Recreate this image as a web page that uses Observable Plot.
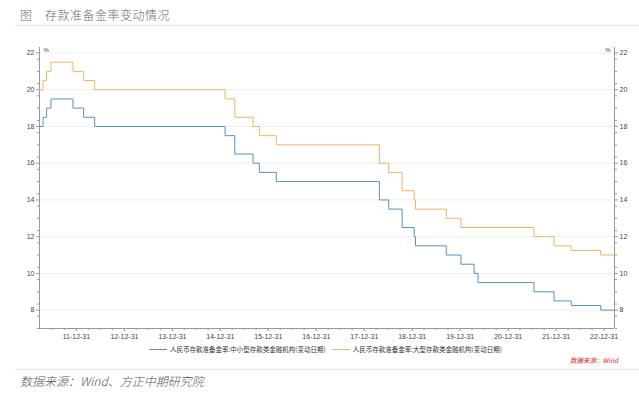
<!DOCTYPE html>
<html>
<head>
<meta charset="utf-8">
<script src="https://cdn.jsdelivr.net/npm/d3@7"></script>
<script src="https://cdn.jsdelivr.net/npm/@observablehq/plot@0.6"></script>
<style>
  html, body { margin: 0; padding: 0; background: #fff; }
  body { width: 639px; height: 401px; position: relative; overflow: hidden; font-family: "Noto Sans CJK SC", "Noto Sans", sans-serif; }
  #title { position: absolute; left: 20px; top: 6px; font-size: 12px; color: #6a6a6a; font-weight: 300; letter-spacing: 0.5px; }
  #rule1 { position: absolute; left: 15px; right: 0; top: 25px; border-top: 1px solid #e6e6e6; }
  #chart { position: absolute; left: 0; top: 30px; }
  #legend { position: absolute; left: 0; width: 639px; top: 344px; display: flex; justify-content: center; gap: 6px; font-size: 6.5px; color: #333; padding-left: 12px; box-sizing: border-box; }
  #legend .item { display: flex; align-items: center; }
  #legend .sw { display: inline-block; width: 18px; height: 0; border-top: 1px solid; margin-right: 3px; }
  #src { position: absolute; left: 570px; top: 355px; font-size: 6.5px; color: #e0201a; font-style: italic; }
  #rule2 { position: absolute; left: 15px; right: 0; top: 369px; border-top: 1px solid #e6e6e6; }
  #caption { position: absolute; left: 20px; top: 372px; font-size: 12px; color: #555; font-weight: 300; font-style: italic; }
</style>
</head>
<body>
<div id="title">图　存款准备金率变动情况</div>
<div id="rule1"></div>
<div id="chart"></div>
<div id="legend"></div>
<div id="src">数据来源：Wind</div>
<div id="rule2"></div>
<div id="caption">数据来源：Wind、方正中期研究院</div>
<script>
// ---- data ----
const seriesNames = [
  "人民币存款准备金率:中小型存款类金融机构(变动日期)",
  "人民币存款准备金率:大型存款类金融机构(变动日期)"
];
const seriesColors = ["#5592c2", "#f2b460"];

const smallDates = ["2011-03-25","2011-04-21","2011-05-18","2011-06-20","2011-12-05","2012-02-24","2012-05-18",
  "2015-02-05","2015-04-20","2015-09-06","2015-10-24","2016-03-01","2018-04-25","2018-07-05","2018-10-15",
  "2019-01-15","2019-01-25","2019-09-16","2020-01-06","2020-04-15","2020-05-15","2021-07-15","2021-12-15",
  "2022-04-25","2022-12-05","2023-03-20"];
const smallRates = [18.0,18.5,19.0,19.5,19.0,18.5,18.0,
  17.5,16.5,16.0,15.5,15.0,14.0,13.5,12.5,
  12.0,11.5,11.0,10.5,10.0,9.5,9.0,8.5,
  8.25,8.0,8.0];

const largeDates = ["2011-03-25","2011-04-21","2011-05-18","2011-06-20","2011-12-05","2012-02-24","2012-05-18",
  "2015-02-05","2015-04-20","2015-09-06","2015-10-24","2016-03-01","2018-04-25","2018-07-05","2018-10-15",
  "2019-01-15","2019-01-25","2019-09-16","2020-01-06","2021-07-15","2021-12-15",
  "2022-04-25","2022-12-05","2023-03-20"];
const largeRates = [20.0,20.5,21.0,21.5,21.0,20.5,20.0,
  19.5,18.5,18.0,17.5,17.0,16.0,15.5,14.5,
  14.0,13.5,13.0,12.5,12.0,11.5,
  11.25,11.0,11.0];

const xTickDates = ["2011-12-31","2012-12-31","2013-12-31","2014-12-31","2015-12-31","2016-12-31",
  "2017-12-31","2018-12-31","2019-12-31","2020-12-31","2021-12-31","2022-12-31"];
const yTicks = [8, 10, 12, 14, 16, 18, 20, 22];
const xDomain = ["2011-03-25", "2023-03-20"];
const yDomain = [7, 22.3];

// ---- build ----
const parse = d3.utcParse("%Y-%m-%d");
const rows = [
  ...smallDates.map((d, i) => ({date: parse(d), rate: smallRates[i], series: seriesNames[0]})),
  ...largeDates.map((d, i) => ({date: parse(d), rate: largeRates[i], series: seriesNames[1]}))
];
const xd = xDomain.map(parse);
const xMajor = xTickDates.map(parse);
const xMinor = [];
for (const t of d3.utcMonth.range(xd[0], xd[1])) {
  const e = d3.utcDay.offset(d3.utcMonth.offset(t, 1), -1);
  if ([2, 5, 8].includes(e.getUTCMonth()) && e <= xd[1]) xMinor.push(e);
}
const yMinor = d3.range(7, 22.01, 2 / 3).map(v => +v.toFixed(4)).filter(v => !yTicks.includes(Math.round(v * 1000) / 1000));
const fmt = d3.utcFormat("%y-%m-%d");
const axisFont = {fontSize: 7, fill: "#444"};

const chart = Plot.plot({
  width: 639,
  height: 318,
  marginLeft: 39,
  marginRight: 25,
  marginTop: 17,
  marginBottom: 20,
  style: {fontFamily: "Liberation Sans, Arial, sans-serif", background: "#fff", overflow: "visible"},
  x: {type: "utc", domain: xd},
  y: {domain: yDomain},
  color: {domain: seriesNames, range: seriesColors},
  marks: [
    Plot.ruleY(yTicks, {stroke: "#efefef", strokeWidth: 1}),
    Plot.ruleX([xd[0]], {stroke: "#999"}),
    Plot.ruleX([xd[1]], {stroke: "#999"}),
    Plot.ruleY([yDomain[0]], {stroke: "#999"}),
    Plot.axisY({anchor: "left", ticks: yTicks, tickSize: 3, tickPadding: 2, stroke: "#999", ...axisFont, label: null}),
    Plot.axisY({anchor: "right", ticks: yTicks, tickSize: 3, tickPadding: 2, stroke: "#999", ...axisFont, label: null}),
    Plot.axisY({anchor: "left", ticks: yMinor, tickSize: 2, tickFormat: () => "", stroke: "#999", label: null}),
    Plot.axisY({anchor: "right", ticks: yMinor, tickSize: 2, tickFormat: () => "", stroke: "#999", label: null}),
    Plot.axisX({anchor: "bottom", ticks: xMajor, tickFormat: fmt, tickSize: 3, tickPadding: 3, stroke: "#999", ...axisFont, label: null}),
    Plot.axisX({anchor: "bottom", ticks: xMinor, tickSize: 2, tickFormat: () => "", stroke: "#999", label: null}),
    Plot.text(["%"], {frameAnchor: "top-left", dx: 4, dy: 0, fontSize: 6, fill: "#444"}),
    Plot.text(["%"], {frameAnchor: "top-right", dx: -4, dy: 0, fontSize: 6, fill: "#444"}),
    Plot.line(rows, {x: "date", y: "rate", z: "series", stroke: "series", curve: "step-after", strokeWidth: 1})
  ]
});
document.getElementById("chart").appendChild(chart);

const legend = document.getElementById("legend");
seriesNames.forEach((name, i) => {
  const item = document.createElement("div");
  item.className = "item";
  const sw = document.createElement("span");
  sw.className = "sw";
  sw.style.borderColor = seriesColors[i];
  item.appendChild(sw);
  item.appendChild(document.createTextNode(name));
  legend.appendChild(item);
});
</script>
</body>
</html>
